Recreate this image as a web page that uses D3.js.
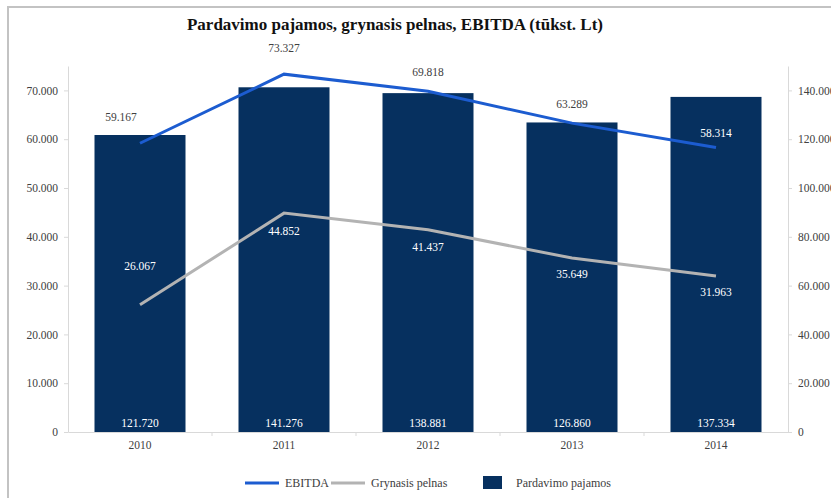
<!DOCTYPE html>
<html>
<head>
<meta charset="utf-8">
<script src="https://cdn.jsdelivr.net/npm/d3@7"></script>
<style>
  body { margin: 0; background: #fff; }
  svg { font-family: "Liberation Serif", "DejaVu Serif", serif; }
</style>
</head>
<body>
<div id="chart"></div>
<script>
// chart values
const years = ["2010", "2011", "2012", "2013", "2014"];
const pardavimo = [121.720, 141.276, 138.881, 126.860, 137.334];
const ebitda = [59.167, 73.327, 69.818, 63.289, 58.314];
const grynasis = [26.067, 44.852, 41.437, 35.649, 31.963];
const leftTicks = [0, 10, 20, 30, 40, 50, 60, 70];
const rightTicks = [0, 20, 40, 60, 80, 100, 120, 140];

// label placement (offsets from point, px)
const ebitdaLabelDx = [-19, 0, 0, 0, 0];
const ebitdaLabelDy = [-26, -26, -19, -19, -14];
const grynLabelDy = [-39, 18, 17, 16, 16];

const fmt = v => v === 0 ? "0" : d3.format(".3f")(v);

const W = 831, H = 498;
const margin = {top: 66, right: 43, bottom: 66, left: 68};
const width = W - margin.left - margin.right,
      height = H - margin.top - margin.bottom;

const svg = d3.select("#chart")
  .append("svg")
  .attr("width", W)
  .attr("height", H);

// frame
svg.append("path")
  .attr("d", "M8,500 L8,7 L840,7")
  .attr("fill", "none")
  .attr("stroke", "#c3c3c3")
  .attr("stroke-width", 2);

svg.append("text")
  .attr("x", 395)
  .attr("y", 30)
  .attr("text-anchor", "middle")
  .style("font-size", "17px")
  .style("font-weight", "bold")
  .style("fill", "#111")
  .text("Pardavimo pajamos, grynasis pelnas, EBITDA (tūkst. Lt)");

const g = svg.append("g")
  .attr("transform", "translate(" + margin.left + "," + margin.top + ")");

let x = d3.scaleBand()
  .domain(years)
  .range([0, width])
  .paddingInner(0.37)
  .paddingOuter(0.185);

let xc = d3.scaleBand().domain(years).range([0, width]);

let yL = d3.scaleLinear().domain([0, 75]).range([height, 0]);
let yR = d3.scaleLinear().domain([0, 150]).range([height, 0]);

// bars
g.append("g")
  .selectAll("rect")
  .data(pardavimo)
  .enter().append("rect")
    .attr("x", (d, i) => xc(years[i]) + xc.bandwidth() / 2 - 45.5)
    .attr("width", 91)
    .attr("y", d => yR(d))
    .attr("height", d => height - yR(d))
    .style("fill", "#06305f");

// bar labels
g.append("g")
  .selectAll("text")
  .data(pardavimo)
  .enter().append("text")
    .attr("x", (d, i) => xc(years[i]) + xc.bandwidth() / 2)
    .attr("y", height - 5)
    .attr("text-anchor", "middle")
    .style("font-size", "11.5px")
    .style("fill", "#fff")
    .text(d => fmt(d));

// axes
function styleAxis(sel) {
  sel.select(".domain").attr("stroke", "#d9d9d9");
  sel.selectAll(".tick line").attr("stroke", "#d9d9d9");
  sel.selectAll(".tick text")
    .style("font-size", "11.5px")
    .style("fill", "#404040")
    .style("font-family", "Liberation Serif, DejaVu Serif, serif");
}

g.append("g")
  .call(d3.axisLeft(yL).tickValues(leftTicks).tickFormat(fmt).tickSize(4).tickSizeOuter(0).tickPadding(6))
  .call(styleAxis);

g.append("g")
  .attr("transform", "translate(" + width + ",0)")
  .call(d3.axisRight(yR).tickValues(rightTicks).tickFormat(fmt).tickSize(4).tickSizeOuter(0).tickPadding(6))
  .call(styleAxis);

const xAxis = g.append("g")
  .attr("transform", "translate(0," + height + ")")
  .call(d3.axisBottom(xc).tickSize(0).tickPadding(9))
  .call(styleAxis);

// small separators between categories
xAxis.selectAll(".sep")
  .data(years.slice(1))
  .enter().append("line")
    .attr("x1", d => xc(d)).attr("x2", d => xc(d))
    .attr("y1", 0).attr("y2", 4)
    .attr("stroke", "#d9d9d9");

// lines
const cx = i => xc(years[i]) + xc.bandwidth() / 2;
const line = d3.line().x((d, i) => cx(i)).y(d => yL(d));

g.append("path")
  .datum(grynasis)
  .attr("d", line)
  .attr("fill", "none")
  .attr("stroke", "#b3b3b3")
  .attr("stroke-width", 3);

g.append("path")
  .datum(ebitda)
  .attr("d", line)
  .attr("fill", "none")
  .attr("stroke", "#1c5cd0")
  .attr("stroke-width", 3);

// line labels
g.append("g")
  .selectAll("text")
  .data(ebitda)
  .enter().append("text")
    .attr("x", (d, i) => cx(i) + ebitdaLabelDx[i])
    .attr("y", (d, i) => yL(d) + ebitdaLabelDy[i] + 4)
    .attr("text-anchor", "middle")
    .style("font-size", "11.5px")
    .style("fill", (d, i) => yL(d) + ebitdaLabelDy[i] > yR(pardavimo[i]) + 2 ? "#fff" : "#404040")
    .text(d => fmt(d));

g.append("g")
  .selectAll("text")
  .data(grynasis)
  .enter().append("text")
    .attr("x", (d, i) => cx(i))
    .attr("y", (d, i) => yL(d) + grynLabelDy[i] + 4)
    .attr("text-anchor", "middle")
    .style("font-size", "11.5px")
    .style("fill", "#fff")
    .text(d => fmt(d));

// legend
const legend = svg.append("g").attr("transform", "translate(0,483)");
const legendItems = [
  {name: "EBITDA", x: 245, type: "line", color: "#1c5cd0"},
  {name: "Grynasis pelnas", x: 331, type: "line", color: "#b3b3b3"},
  {name: "Pardavimo pajamos", x: 483, type: "rect", color: "#06305f"}
];
legendItems.forEach(it => {
  if (it.type === "line") {
    legend.append("line")
      .attr("x1", it.x).attr("x2", it.x + 34)
      .attr("y1", 0).attr("y2", 0)
      .attr("stroke", it.color).attr("stroke-width", 3);
    legend.append("text")
      .attr("x", it.x + 40).attr("y", 4)
      .style("font-size", "12px").style("fill", "#404040")
      .text(it.name);
  } else {
    legend.append("rect")
      .attr("x", it.x).attr("y", -7)
      .attr("width", 19).attr("height", 13)
      .style("fill", it.color);
    legend.append("text")
      .attr("x", it.x + 33).attr("y", 4)
      .style("font-size", "12px").style("fill", "#404040")
      .text(it.name);
  }
});
</script>
</body>
</html>
